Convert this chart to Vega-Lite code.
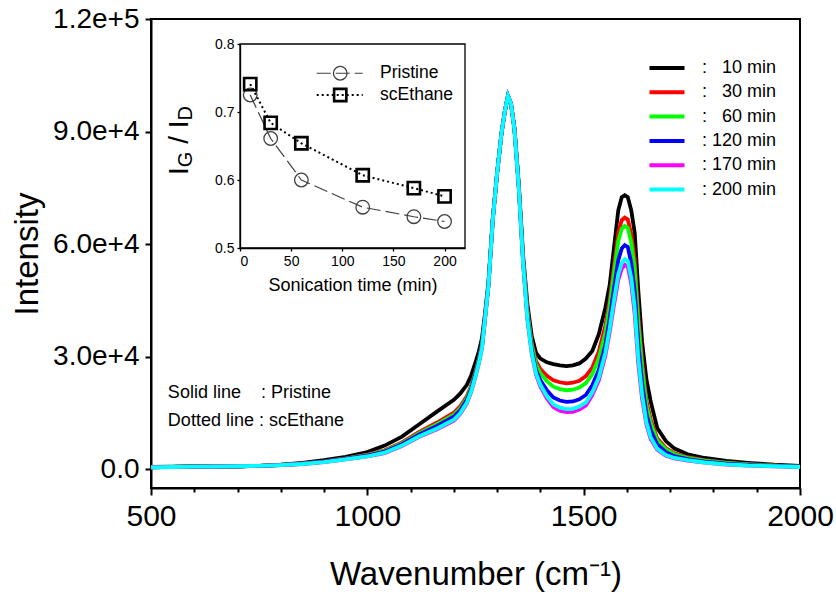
{
  "$schema": "https://vega.github.io/schema/vega-lite/v6.json",
  "width": 649,
  "height": 469,
  "autosize": {"type": "none"},
  "padding": {"left": 151, "top": 19, "right": 36, "bottom": 108},
  "background": "white",
  "config": {
    "font": "Liberation Sans",
    "view": {"stroke": "black", "strokeWidth": 2},
    "axis": {"grid": false, "domainColor": "black", "tickColor": "black", "labelColor": "black", "titleColor": "black", "labelFont": "Liberation Sans", "titleFont": "Liberation Sans", "titleFontWeight": "normal"},
    "text": {"font": "Liberation Sans", "color": "black"}
  },
  "datasets": {
    "spec": [
{"w":500,"t":"10","i":600},{"w":550,"t":"10","i":700},{"w":600,"t":"10","i":800},{"w":650,"t":"10","i":700},{"w":700,"t":"10","i":700},{"w":750,"t":"10","i":900},{"w":800,"t":"10","i":1200},{"w":850,"t":"10","i":1700},{"w":900,"t":"10","i":2400},{"w":950,"t":"10","i":3300},{"w":1000,"t":"10","i":4600},{"w":1040,"t":"10","i":6300},{"w":1080,"t":"10","i":8700},{"w":1120,"t":"10","i":12000},{"w":1160,"t":"10","i":15300},{"w":1200,"t":"10","i":18500},{"w":1215,"t":"10","i":20200},{"w":1230,"t":"10","i":22500},{"w":1240,"t":"10","i":25000},{"w":1250,"t":"10","i":28500},{"w":1258,"t":"10","i":31500},{"w":1265,"t":"10","i":35000},{"w":1272,"t":"10","i":41500},{"w":1280,"t":"10","i":50000},{"w":1290,"t":"10","i":67000},{"w":1300,"t":"10","i":79000},{"w":1310,"t":"10","i":89500},{"w":1318,"t":"10","i":95500},{"w":1325,"t":"10","i":99500},{"w":1332,"t":"10","i":97500},{"w":1340,"t":"10","i":91000},{"w":1350,"t":"10","i":76000},{"w":1360,"t":"10","i":57000},{"w":1370,"t":"10","i":44000},{"w":1380,"t":"10","i":35500},{"w":1390,"t":"10","i":31000},{"w":1400,"t":"10","i":29500},{"w":1415,"t":"10","i":28500},{"w":1430,"t":"10","i":28000},{"w":1445,"t":"10","i":27700},{"w":1460,"t":"10","i":27500},{"w":1475,"t":"10","i":27700},{"w":1490,"t":"10","i":28200},{"w":1505,"t":"10","i":29500},{"w":1520,"t":"10","i":31500},{"w":1535,"t":"10","i":36000},{"w":1550,"t":"10","i":43000},{"w":1560,"t":"10","i":49000},{"w":1570,"t":"10","i":59000},{"w":1580,"t":"10","i":69000},{"w":1588,"t":"10","i":72500},{"w":1595,"t":"10","i":73000},{"w":1602,"t":"10","i":72500},{"w":1610,"t":"10","i":69000},{"w":1618,"t":"10","i":63000},{"w":1626,"t":"10","i":48000},{"w":1635,"t":"10","i":34000},{"w":1645,"t":"10","i":24000},{"w":1655,"t":"10","i":18000},{"w":1670,"t":"10","i":11000},{"w":1690,"t":"10","i":7500},{"w":1710,"t":"10","i":5500},{"w":1740,"t":"10","i":4000},{"w":1780,"t":"10","i":3000},{"w":1830,"t":"10","i":2200},{"w":1880,"t":"10","i":1700},{"w":1940,"t":"10","i":1200},{"w":2000,"t":"10","i":900},
{"w":500,"t":"30","i":540},{"w":550,"t":"30","i":640},{"w":600,"t":"30","i":740},{"w":650,"t":"30","i":700},{"w":700,"t":"30","i":760},{"w":750,"t":"30","i":900},{"w":800,"t":"30","i":1140},{"w":850,"t":"30","i":1520},{"w":900,"t":"30","i":2100},{"w":950,"t":"30","i":2880},{"w":1000,"t":"30","i":3880},{"w":1040,"t":"30","i":5070},{"w":1080,"t":"30","i":7140},{"w":1120,"t":"30","i":9920},{"w":1160,"t":"30","i":12380},{"w":1200,"t":"30","i":15060},{"w":1215,"t":"30","i":16820},{"w":1230,"t":"30","i":19450},{"w":1240,"t":"30","i":22270},{"w":1250,"t":"30","i":26100},{"w":1258,"t":"30","i":29550},{"w":1265,"t":"30","i":33250},{"w":1272,"t":"30","i":40530},{"w":1280,"t":"30","i":49350},{"w":1290,"t":"30","i":66800},{"w":1300,"t":"30","i":79000},{"w":1310,"t":"30","i":89500},{"w":1318,"t":"30","i":95500},{"w":1325,"t":"30","i":99500},{"w":1332,"t":"30","i":97500},{"w":1340,"t":"30","i":90800},{"w":1350,"t":"30","i":75600},{"w":1360,"t":"30","i":56200},{"w":1370,"t":"30","i":42400},{"w":1380,"t":"30","i":33700},{"w":1390,"t":"30","i":28800},{"w":1400,"t":"30","i":26700},{"w":1415,"t":"30","i":24900},{"w":1430,"t":"30","i":23720},{"w":1445,"t":"30","i":23180},{"w":1460,"t":"30","i":22900},{"w":1475,"t":"30","i":23060},{"w":1490,"t":"30","i":23600},{"w":1505,"t":"30","i":24820},{"w":1520,"t":"30","i":27100},{"w":1535,"t":"30","i":31400},{"w":1550,"t":"30","i":38200},{"w":1560,"t":"30","i":44980},{"w":1570,"t":"30","i":54100},{"w":1580,"t":"30","i":63050},{"w":1588,"t":"30","i":66380},{"w":1595,"t":"30","i":67050},{"w":1602,"t":"30","i":66550},{"w":1610,"t":"30","i":62700},{"w":1618,"t":"30","i":56000},{"w":1626,"t":"30","i":41700},{"w":1635,"t":"30","i":29100},{"w":1645,"t":"30","i":18250},{"w":1655,"t":"30","i":13250},{"w":1670,"t":"30","i":8250},{"w":1690,"t":"30","i":5650},{"w":1710,"t":"30","i":4250},{"w":1740,"t":"30","i":3200},{"w":1780,"t":"30","i":2400},{"w":1830,"t":"30","i":1750},{"w":1880,"t":"30","i":1350},{"w":1940,"t":"30","i":1000},{"w":2000,"t":"30","i":750},
{"w":500,"t":"60","i":530},{"w":550,"t":"60","i":630},{"w":600,"t":"60","i":730},{"w":650,"t":"60","i":700},{"w":700,"t":"60","i":770},{"w":750,"t":"60","i":900},{"w":800,"t":"60","i":1130},{"w":850,"t":"60","i":1490},{"w":900,"t":"60","i":2050},{"w":950,"t":"60","i":2810},{"w":1000,"t":"60","i":3760},{"w":1040,"t":"60","i":4880},{"w":1080,"t":"60","i":6900},{"w":1120,"t":"60","i":9600},{"w":1160,"t":"60","i":11930},{"w":1200,"t":"60","i":14530},{"w":1215,"t":"60","i":16300},{"w":1230,"t":"60","i":18980},{"w":1240,"t":"60","i":21850},{"w":1250,"t":"60","i":25730},{"w":1258,"t":"60","i":29250},{"w":1265,"t":"60","i":32980},{"w":1272,"t":"60","i":40380},{"w":1280,"t":"60","i":49250},{"w":1290,"t":"60","i":66700},{"w":1300,"t":"60","i":79000},{"w":1310,"t":"60","i":89500},{"w":1318,"t":"60","i":95500},{"w":1325,"t":"60","i":99500},{"w":1332,"t":"60","i":97500},{"w":1340,"t":"60","i":90700},{"w":1350,"t":"60","i":75400},{"w":1360,"t":"60","i":55900},{"w":1370,"t":"60","i":41760},{"w":1380,"t":"60","i":32980},{"w":1390,"t":"60","i":27920},{"w":1400,"t":"60","i":25580},{"w":1415,"t":"60","i":23460},{"w":1430,"t":"60","i":22010},{"w":1445,"t":"60","i":21370},{"w":1460,"t":"60","i":21060},{"w":1475,"t":"60","i":21200},{"w":1490,"t":"60","i":21760},{"w":1505,"t":"60","i":22950},{"w":1520,"t":"60","i":25340},{"w":1535,"t":"60","i":29560},{"w":1550,"t":"60","i":36280},{"w":1560,"t":"60","i":43480},{"w":1570,"t":"60","i":52280},{"w":1580,"t":"60","i":60840},{"w":1588,"t":"60","i":64100},{"w":1595,"t":"60","i":64840},{"w":1602,"t":"60","i":64340},{"w":1610,"t":"60","i":60400},{"w":1618,"t":"60","i":53400},{"w":1626,"t":"60","i":39360},{"w":1635,"t":"60","i":27280},{"w":1645,"t":"60","i":17100},{"w":1655,"t":"60","i":12300},{"w":1670,"t":"60","i":7700},{"w":1690,"t":"60","i":5280},{"w":1710,"t":"60","i":4000},{"w":1740,"t":"60","i":3040},{"w":1780,"t":"60","i":2280},{"w":1830,"t":"60","i":1660},{"w":1880,"t":"60","i":1280},{"w":1940,"t":"60","i":960},{"w":2000,"t":"60","i":720},
{"w":500,"t":"120","i":520},{"w":550,"t":"120","i":620},{"w":600,"t":"120","i":720},{"w":650,"t":"120","i":700},{"w":700,"t":"120","i":780},{"w":750,"t":"120","i":900},{"w":800,"t":"120","i":1120},{"w":850,"t":"120","i":1460},{"w":900,"t":"120","i":2000},{"w":950,"t":"120","i":2740},{"w":1000,"t":"120","i":3640},{"w":1040,"t":"120","i":4690},{"w":1080,"t":"120","i":6660},{"w":1120,"t":"120","i":9280},{"w":1160,"t":"120","i":11480},{"w":1200,"t":"120","i":14000},{"w":1215,"t":"120","i":15780},{"w":1230,"t":"120","i":18500},{"w":1240,"t":"120","i":21430},{"w":1250,"t":"120","i":25360},{"w":1258,"t":"120","i":28950},{"w":1265,"t":"120","i":32700},{"w":1272,"t":"120","i":40230},{"w":1280,"t":"120","i":49150},{"w":1290,"t":"120","i":66600},{"w":1300,"t":"120","i":79000},{"w":1310,"t":"120","i":89500},{"w":1318,"t":"120","i":95500},{"w":1325,"t":"120","i":99500},{"w":1332,"t":"120","i":97500},{"w":1340,"t":"120","i":90600},{"w":1350,"t":"120","i":75200},{"w":1360,"t":"120","i":55300},{"w":1370,"t":"120","i":40680},{"w":1380,"t":"120","i":31770},{"w":1390,"t":"120","i":26440},{"w":1400,"t":"120","i":23690},{"w":1415,"t":"120","i":21030},{"w":1430,"t":"120","i":19120},{"w":1445,"t":"120","i":18320},{"w":1460,"t":"120","i":17960},{"w":1475,"t":"120","i":18070},{"w":1490,"t":"120","i":18660},{"w":1505,"t":"120","i":19790},{"w":1520,"t":"120","i":22370},{"w":1535,"t":"120","i":26460},{"w":1550,"t":"120","i":33040},{"w":1560,"t":"120","i":40030},{"w":1570,"t":"120","i":48080},{"w":1580,"t":"120","i":55740},{"w":1588,"t":"120","i":58850},{"w":1595,"t":"120","i":59740},{"w":1602,"t":"120","i":59240},{"w":1610,"t":"120","i":55000},{"w":1618,"t":"120","i":47400},{"w":1626,"t":"120","i":33960},{"w":1635,"t":"120","i":23080},{"w":1645,"t":"120","i":14800},{"w":1655,"t":"120","i":10400},{"w":1670,"t":"120","i":6600},{"w":1690,"t":"120","i":4540},{"w":1710,"t":"120","i":3500},{"w":1740,"t":"120","i":2720},{"w":1780,"t":"120","i":2040},{"w":1830,"t":"120","i":1480},{"w":1880,"t":"120","i":1140},{"w":1940,"t":"120","i":880},{"w":2000,"t":"120","i":660},
{"w":500,"t":"170","i":500},{"w":550,"t":"170","i":600},{"w":600,"t":"170","i":700},{"w":650,"t":"170","i":700},{"w":700,"t":"170","i":800},{"w":750,"t":"170","i":900},{"w":800,"t":"170","i":1100},{"w":850,"t":"170","i":1400},{"w":900,"t":"170","i":1900},{"w":950,"t":"170","i":2600},{"w":1000,"t":"170","i":3400},{"w":1040,"t":"170","i":4300},{"w":1080,"t":"170","i":6180},{"w":1120,"t":"170","i":8640},{"w":1160,"t":"170","i":10580},{"w":1200,"t":"170","i":12940},{"w":1215,"t":"170","i":14740},{"w":1230,"t":"170","i":17570},{"w":1240,"t":"170","i":20590},{"w":1250,"t":"170","i":24620},{"w":1258,"t":"170","i":28350},{"w":1265,"t":"170","i":32170},{"w":1272,"t":"170","i":39930},{"w":1280,"t":"170","i":48950},{"w":1290,"t":"170","i":66500},{"w":1300,"t":"170","i":79000},{"w":1310,"t":"170","i":89500},{"w":1318,"t":"170","i":95500},{"w":1325,"t":"170","i":99500},{"w":1332,"t":"170","i":97500},{"w":1340,"t":"170","i":90500},{"w":1350,"t":"170","i":74900},{"w":1360,"t":"170","i":54900},{"w":1370,"t":"170","i":39720},{"w":1380,"t":"170","i":30690},{"w":1390,"t":"170","i":25120},{"w":1400,"t":"170","i":22010},{"w":1415,"t":"170","i":18870},{"w":1430,"t":"170","i":16550},{"w":1445,"t":"170","i":15610},{"w":1460,"t":"170","i":15200},{"w":1475,"t":"170","i":15290},{"w":1490,"t":"170","i":15900},{"w":1505,"t":"170","i":16980},{"w":1520,"t":"170","i":19730},{"w":1535,"t":"170","i":23700},{"w":1550,"t":"170","i":30160},{"w":1560,"t":"170","i":36470},{"w":1570,"t":"170","i":43740},{"w":1580,"t":"170","i":50470},{"w":1588,"t":"170","i":53430},{"w":1595,"t":"170","i":54470},{"w":1602,"t":"170","i":53970},{"w":1610,"t":"170","i":49400},{"w":1618,"t":"170","i":41200},{"w":1626,"t":"170","i":28380},{"w":1635,"t":"170","i":18740},{"w":1645,"t":"170","i":11930},{"w":1655,"t":"170","i":8030},{"w":1670,"t":"170","i":5230},{"w":1690,"t":"170","i":3620},{"w":1710,"t":"170","i":2880},{"w":1740,"t":"170","i":2320},{"w":1780,"t":"170","i":1740},{"w":1830,"t":"170","i":1260},{"w":1880,"t":"170","i":970},{"w":1940,"t":"170","i":780},{"w":2000,"t":"170","i":590},
{"w":500,"t":"200","i":500},{"w":550,"t":"200","i":600},{"w":600,"t":"200","i":700},{"w":650,"t":"200","i":700},{"w":700,"t":"200","i":800},{"w":750,"t":"200","i":900},{"w":800,"t":"200","i":1100},{"w":850,"t":"200","i":1400},{"w":900,"t":"200","i":1900},{"w":950,"t":"200","i":2600},{"w":1000,"t":"200","i":3400},{"w":1040,"t":"200","i":4400},{"w":1080,"t":"200","i":6300},{"w":1120,"t":"200","i":8800},{"w":1160,"t":"200","i":10800},{"w":1200,"t":"200","i":13200},{"w":1215,"t":"200","i":15000},{"w":1230,"t":"200","i":17800},{"w":1240,"t":"200","i":20800},{"w":1250,"t":"200","i":24800},{"w":1258,"t":"200","i":28500},{"w":1265,"t":"200","i":32300},{"w":1272,"t":"200","i":40000},{"w":1280,"t":"200","i":49000},{"w":1290,"t":"200","i":66500},{"w":1300,"t":"200","i":79000},{"w":1310,"t":"200","i":89500},{"w":1318,"t":"200","i":95500},{"w":1325,"t":"200","i":99500},{"w":1332,"t":"200","i":97500},{"w":1340,"t":"200","i":90500},{"w":1350,"t":"200","i":75000},{"w":1360,"t":"200","i":55000},{"w":1370,"t":"200","i":40000},{"w":1380,"t":"200","i":31000},{"w":1390,"t":"200","i":25500},{"w":1400,"t":"200","i":22500},{"w":1415,"t":"200","i":19500},{"w":1430,"t":"200","i":17300},{"w":1445,"t":"200","i":16400},{"w":1460,"t":"200","i":16000},{"w":1475,"t":"200","i":16100},{"w":1490,"t":"200","i":16700},{"w":1505,"t":"200","i":17800},{"w":1520,"t":"200","i":20500},{"w":1535,"t":"200","i":24500},{"w":1550,"t":"200","i":31000},{"w":1560,"t":"200","i":37500},{"w":1570,"t":"200","i":45000},{"w":1580,"t":"200","i":52000},{"w":1588,"t":"200","i":55000},{"w":1595,"t":"200","i":56000},{"w":1602,"t":"200","i":55500},{"w":1610,"t":"200","i":51000},{"w":1618,"t":"200","i":43000},{"w":1626,"t":"200","i":30000},{"w":1635,"t":"200","i":20000},{"w":1645,"t":"200","i":12500},{"w":1655,"t":"200","i":8500},{"w":1670,"t":"200","i":5500},{"w":1690,"t":"200","i":3800},{"w":1710,"t":"200","i":3000},{"w":1740,"t":"200","i":2400},{"w":1780,"t":"200","i":1800},{"w":1830,"t":"200","i":1300},{"w":1880,"t":"200","i":1000},{"w":1940,"t":"200","i":800},{"w":2000,"t":"200","i":600}
    ],
    "ratio": [
      {"m":10,"r":0.725,"s":"Pristine"},{"m":30,"r":0.661,"s":"Pristine"},{"m":60,"r":0.600,"s":"Pristine"},{"m":120,"r":0.560,"s":"Pristine"},{"m":170,"r":0.546,"s":"Pristine"},{"m":200,"r":0.539,"s":"Pristine"},
      {"m":10,"r":0.741,"s":"scEthane"},{"m":30,"r":0.684,"s":"scEthane"},{"m":60,"r":0.654,"s":"scEthane"},{"m":120,"r":0.607,"s":"scEthane"},{"m":170,"r":0.588,"s":"scEthane"},{"m":200,"r":0.576,"s":"scEthane"}
    ]
  },
  "layer": [
    {
      "layer": [
        {
          "data": {"name": "spec"},
          "mark": {"type": "line", "strokeWidth": 3.8, "clip": true},
          "encoding": {
            "x": {"field": "w", "type": "quantitative",
              "scale": {"domain": [500, 2000], "nice": false, "zero": false},
              "axis": {"orient": "bottom", "values": [500,600,700,800,900,1000,1100,1200,1300,1400,1500,1600,1700,1800,1900,2000],
                "labelExpr": "datum.value % 500 === 0 ? '' + datum.value : ''", "labelFlush": false,
                "tickSize": {"condition": {"test": "datum.value % 500 === 0", "value": 7}, "value": 4},
                "tickWidth": 2, "domainWidth": 2, "labelFontSize": 30, "labelPadding": 6,
                "title": "Wavenumber (cm⁻¹)", "titleFontSize": 33, "titlePadding": 27}},
            "y": {"field": "i", "type": "quantitative",
              "scale": {"domain": [-5000, 120000], "nice": false, "zero": false},
              "axis": {"orient": "left", "values": [0, 30000, 60000, 90000, 120000],
                "labelExpr": "datum.value === 0 ? '0.0' : format(datum.value, '.1e')",
                "tickSize": 6, "tickWidth": 2, "domainWidth": 2, "labelFontSize": 28, "labelPadding": 6,
                "title": "Intensity", "titleFontSize": 33, "titlePadding": 8}},
            "color": {"field": "t", "type": "nominal",
              "scale": {"domain": ["10","30","60","120","170","200"], "range": ["#000000","#ff0000","#00ff00","#0000ff","#ff00ff","#00ffff"]},
              "legend": {"orient": "none", "legendX": 505, "legendY": 38, "title": null, "padding": 0,
                "symbolType": "M-2,0L2,0", "symbolSize": 306, "symbolStrokeWidth": 4,
                "labelFontSize": 18, "labelOffset": 24, "rowPadding": 4.3, "labelLimit": 300, "labelColor": "black",
                "labelExpr": "': ' + (length(datum.label) < 3 ? '\u2007' : '') + datum.label + ' min'"}}
          }
        },
        {
          "data": {"values": [{}]},
          "mark": {"type": "text", "align": "left", "baseline": "middle", "fontSize": 18},
          "encoding": {"x": {"datum": 539}, "y": {"datum": 20300}, "text": {"value": "Solid line\u00a0\u00a0\u00a0\u00a0: Pristine"}}
        },
        {
          "data": {"values": [{}]},
          "mark": {"type": "text", "align": "left", "baseline": "middle", "fontSize": 18},
          "encoding": {"x": {"datum": 539}, "y": {"datum": 12800}, "text": {"value": "Dotted line : scEthane"}}
        }
      ]
    },
    {
      "layer": [
        {
          "data": {"name": "ratio"},
          "transform": [{"filter": "datum.s === 'Pristine'"}],
          "mark": {"type": "line", "stroke": "#404040", "strokeWidth": 1.2, "strokeDash": [14, 5]},
          "encoding": {
            "x": {"field": "m", "type": "quantitative",
              "scale": {"domain": [0, 220], "range": [89, 314], "nice": false, "zero": false},
              "axis": {"orient": "bottom", "offset": -240, "values": [0, 50, 100, 150, 200], "tickSize": 3, "tickWidth": 1.3, "domainWidth": 1.3,
                "labelFontSize": 14, "labelPadding": 3, "title": "Sonication time (min)", "titleFontSize": 18, "titlePadding": 8}},
            "y": {"field": "r", "type": "quantitative",
              "scale": {"domain": [0.5, 0.8], "range": [229, 25], "nice": false, "zero": false},
              "axis": {"orient": "left", "offset": -89, "values": [0.5, 0.6, 0.7, 0.8], "format": ".1f", "tickSize": 3, "tickWidth": 1.3, "domainWidth": 1.3,
                "labelFontSize": 14, "labelPadding": 3, "title": null}}
          }
        },
        {
          "data": {"name": "ratio"},
          "transform": [{"filter": "datum.s === 'Pristine'"}],
          "mark": {"type": "point", "shape": "circle", "filled": false, "opacity": 1, "stroke": "#404040", "strokeWidth": 1.3, "size": 185},
          "encoding": {"x": {"field": "m", "type": "quantitative"}, "y": {"field": "r", "type": "quantitative"}}
        },
        {
          "data": {"name": "ratio"},
          "transform": [{"filter": "datum.s === 'scEthane'"}],
          "mark": {"type": "line", "stroke": "black", "strokeWidth": 2, "strokeDash": [2, 3]},
          "encoding": {"x": {"field": "m", "type": "quantitative"}, "y": {"field": "r", "type": "quantitative"}}
        },
        {
          "data": {"name": "ratio"},
          "transform": [{"filter": "datum.s === 'scEthane'"}],
          "mark": {"type": "point", "shape": "square", "filled": false, "opacity": 1, "stroke": "black", "strokeWidth": 2.6, "size": 150},
          "encoding": {"x": {"field": "m", "type": "quantitative"}, "y": {"field": "r", "type": "quantitative"}}
        },
        {
          "data": {"values": [{}]},
          "mark": {"type": "rect", "filled": false, "stroke": "black", "strokeWidth": 1.3},
          "encoding": {"x": {"datum": 0}, "x2": {"datum": 220}, "y": {"datum": 0.5}, "y2": {"datum": 0.8}}
        },
        {
          "data": {"values": [{}]},
          "mark": {"type": "rule", "stroke": "#404040", "strokeWidth": 1.2, "strokeDash": [14, 5]},
          "encoding": {"x": {"datum": 75}, "x2": {"datum": 120}, "y": {"datum": 0.757}}
        },
        {
          "data": {"values": [{}]},
          "mark": {"type": "point", "shape": "circle", "filled": false, "opacity": 1, "stroke": "#404040", "strokeWidth": 1.3, "size": 185},
          "encoding": {"x": {"datum": 98}, "y": {"datum": 0.757}}
        },
        {
          "data": {"values": [{}]},
          "mark": {"type": "text", "align": "left", "baseline": "middle", "fontSize": 17.5},
          "encoding": {"x": {"datum": 137}, "y": {"datum": 0.757}, "text": {"value": "Pristine"}}
        },
        {
          "data": {"values": [{}]},
          "mark": {"type": "rule", "stroke": "black", "strokeWidth": 2, "strokeDash": [2, 3]},
          "encoding": {"x": {"datum": 75}, "x2": {"datum": 120}, "y": {"datum": 0.725}}
        },
        {
          "data": {"values": [{}]},
          "mark": {"type": "point", "shape": "square", "filled": false, "opacity": 1, "stroke": "black", "strokeWidth": 2.6, "size": 150},
          "encoding": {"x": {"datum": 98}, "y": {"datum": 0.725}}
        },
        {
          "data": {"values": [{}]},
          "mark": {"type": "text", "align": "left", "baseline": "middle", "fontSize": 17.5},
          "encoding": {"x": {"datum": 137}, "y": {"datum": 0.725}, "text": {"value": "scEthane"}}
        },
        {
          "data": {"values": [{}]},
          "mark": {"type": "text", "align": "left", "baseline": "middle", "angle": 270, "fontSize": 28},
          "encoding": {"x": {"datum": -58.5}, "y": {"datum": 0.6074}, "text": {"value": "I"}}
        },
        {
          "data": {"values": [{}]},
          "mark": {"type": "text", "align": "left", "baseline": "middle", "angle": 270, "fontSize": 20},
          "encoding": {"x": {"datum": -52.7}, "y": {"datum": 0.6188}, "text": {"value": "G"}}
        },
        {
          "data": {"values": [{}]},
          "mark": {"type": "text", "align": "left", "baseline": "middle", "angle": 270, "fontSize": 28},
          "encoding": {"x": {"datum": -58.5}, "y": {"datum": 0.6532}, "text": {"value": "/"}}
        },
        {
          "data": {"values": [{}]},
          "mark": {"type": "text", "align": "left", "baseline": "middle", "angle": 270, "fontSize": 28},
          "encoding": {"x": {"datum": -58.5}, "y": {"datum": 0.6762}, "text": {"value": "I"}}
        },
        {
          "data": {"values": [{}]},
          "mark": {"type": "text", "align": "left", "baseline": "middle", "angle": 270, "fontSize": 20},
          "encoding": {"x": {"datum": -52.7}, "y": {"datum": 0.6876}, "text": {"value": "D"}}
        }
      ]
    }
  ],
  "resolve": {"scale": {"x": "independent", "y": "independent"}}
}
